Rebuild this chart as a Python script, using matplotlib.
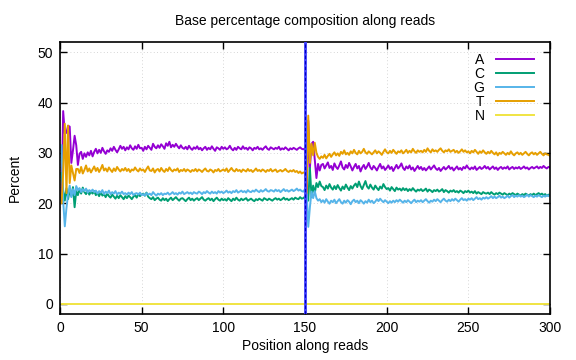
import matplotlib
matplotlib.use("Agg")
import matplotlib.pyplot as plt
import numpy as np

plt.rcParams['font.family'] = ['Liberation Sans', 'DejaVu Sans']

# position along reads: read 1 = 1..150, read 2 = 151..300
positions = np.arange(1, 301)

pct_A = [
    20.5, 38.3, 33.8, 34.0, 35.4, 35.2, 28.0, 30.5, 33.4, 31.5,
    27.6, 29.8, 30.2, 28.8, 29.9, 29.2, 30.1, 29.5, 30.4, 29.3,
    30.2, 30.8, 29.9, 30.6, 30.0, 31.0, 30.3, 29.8, 30.5, 30.2,
    30.9, 30.4, 31.2, 30.6, 30.1, 30.7, 31.4, 30.8, 31.2, 30.5,
    31.1, 30.7, 31.5, 30.9, 30.6, 31.3, 30.8, 31.6, 30.9, 31.0,
    30.4, 31.2, 30.7, 31.4, 31.0, 30.6, 31.8, 31.2, 30.9, 31.5,
    31.0, 31.7, 31.3, 30.8, 31.9, 31.4, 32.2, 31.1, 31.6, 31.2,
    31.8, 31.3, 30.9, 31.5, 31.0, 30.8, 31.2, 30.7, 31.4, 30.9,
    30.6, 31.1, 30.8, 31.3, 30.7, 31.0, 30.5, 30.9, 31.2, 30.6,
    31.0, 30.7, 31.3, 30.8, 30.4, 31.1, 30.9, 30.6, 31.2, 30.8,
    31.1, 30.7, 30.9, 31.4, 30.8, 30.5, 31.0, 30.6, 31.2, 30.9,
    30.7, 31.3, 30.8, 31.0, 30.6, 31.1, 30.9, 30.5, 31.0, 30.8,
    31.2, 30.7, 30.9, 30.6, 31.0, 31.3, 30.8, 30.6, 31.1, 30.9,
    30.7, 31.0, 30.8, 31.2, 30.6, 30.9, 30.7, 31.1, 30.8, 30.5,
    30.9, 30.7, 31.0, 30.8, 30.6, 30.9, 31.1, 30.8, 30.7, 30.9,
    18.6, 36.4, 27.0, 31.8, 32.2, 28.5, 25.0, 27.8, 26.5, 27.6,
    27.8, 26.9, 27.5, 28.1, 27.0, 27.4, 26.6, 27.9, 27.2, 26.8,
    27.5, 28.3, 27.1, 26.7, 27.6, 27.0, 28.0, 27.3, 26.5, 27.2,
    27.8, 26.9, 27.4, 26.3, 27.1, 27.6, 26.8, 27.3, 28.0, 27.1,
    26.7, 27.4, 27.0, 26.5, 27.2, 27.8, 26.9, 27.3, 26.6, 27.0,
    27.5, 26.8, 27.2, 26.4, 27.0, 27.6, 26.9, 27.3, 27.9, 27.0,
    26.6, 27.3, 26.9, 27.5, 26.7, 27.1, 26.4, 26.9, 27.4, 26.8,
    27.2, 26.6, 27.0, 26.5, 26.9, 27.3, 26.7, 27.1, 27.5, 26.9,
    26.6, 27.0, 26.4, 26.8, 27.2, 26.7, 27.0, 27.4, 26.8, 27.1,
    26.5, 26.9, 27.3, 26.7, 27.0, 26.6, 27.2, 26.9, 27.5, 27.0,
    26.7, 27.1, 26.8, 27.3, 26.6, 26.9, 27.2, 26.8, 27.0, 27.4,
    26.9, 27.2, 26.7, 27.0, 27.3, 26.8, 27.1, 26.6, 27.0, 27.2,
    26.8, 27.1, 26.9, 27.3, 26.7, 27.0, 27.2, 26.8, 27.1, 26.9,
    27.2, 26.8, 27.0, 27.3, 26.9, 27.1, 26.7, 27.0, 27.2, 26.9,
    27.1, 27.3, 26.9, 27.2, 27.0, 27.4, 27.1, 26.9, 27.2, 27.1,
]

pct_C = [
    26.0, 22.5, 20.5, 23.0, 20.8, 22.6, 21.4, 23.2, 19.2, 22.4,
    21.6, 22.8, 21.9, 23.1, 22.2, 21.8, 22.5, 21.7, 22.3, 21.9,
    22.4, 21.6, 22.0, 21.4, 22.2, 21.5, 21.8, 21.2, 21.9, 21.4,
    21.1, 21.7, 21.3, 20.9, 21.5, 21.0, 21.6, 21.2, 20.8, 21.4,
    21.0, 21.5, 21.2, 20.8, 21.3, 21.6, 21.1, 21.8, 21.4, 21.7,
    21.9, 21.5, 22.1, 21.3, 21.0, 20.8, 21.2, 20.6, 20.9, 21.1,
    20.7, 20.5, 21.0, 20.6, 20.9, 20.4, 20.8, 21.1, 20.6, 20.9,
    21.2, 20.8, 20.5, 20.9, 21.0, 20.7, 20.4, 20.8, 21.1, 20.6,
    20.9, 20.5, 20.8, 21.0, 20.6, 20.9, 21.2, 20.7, 20.5, 20.8,
    21.0, 20.6, 20.9, 20.4, 20.8, 21.1, 20.7, 20.5, 20.9, 20.6,
    20.8, 20.5, 21.0, 20.7, 20.4, 20.9, 20.6, 21.1, 20.7, 20.5,
    20.9, 20.6, 20.8, 21.0, 20.5, 20.7, 20.9, 20.6, 20.4, 20.8,
    20.6, 20.9, 20.7, 20.5, 21.0, 20.8, 20.6, 20.9, 20.7, 20.5,
    20.8, 21.0, 20.7, 20.9, 20.6, 20.8, 21.1, 20.7, 20.9, 20.6,
    20.8, 21.0, 20.7, 21.1, 20.9, 20.8, 21.2, 20.9, 21.0, 21.3,
    21.0, 20.5, 27.0, 21.2, 23.5, 22.0, 24.0, 23.2, 24.3, 23.4,
    23.2, 22.6, 23.5, 22.9, 23.8, 23.1, 22.7, 23.4, 22.8, 23.6,
    23.0, 22.5, 23.3, 22.8, 23.7, 23.1, 22.6, 23.4, 22.9, 23.5,
    23.9, 23.2, 24.3, 23.4, 22.8, 23.6, 24.4, 23.3, 22.9, 23.7,
    23.1, 22.7, 23.5, 23.0, 22.6, 23.3, 22.9, 23.8, 23.2, 22.8,
    23.0, 22.5, 23.2, 22.8, 22.4, 23.1, 22.7, 22.9, 22.5, 23.0,
    22.6, 22.9, 22.4, 22.8, 22.5, 23.0, 22.6, 22.3, 22.7, 22.5,
    22.8, 22.4, 22.6, 22.9, 22.3, 22.7, 22.5, 22.2, 22.6, 22.4,
    22.7, 22.3, 22.5, 22.8, 22.2, 22.6, 22.4, 22.1, 22.5, 22.3,
    22.6, 22.2, 22.4, 22.1, 22.5, 22.3, 22.0, 22.4, 22.2, 22.5,
    22.1, 22.3, 22.0, 22.4, 21.9, 22.2, 22.0, 21.8, 22.2, 22.0,
    21.9, 22.1, 21.8, 22.2, 21.9, 21.7, 22.0, 21.8, 22.1, 21.9,
    21.7, 22.0, 21.8, 21.6, 21.9, 21.7, 22.0, 21.8, 21.6, 21.9,
    21.7, 21.5, 21.8, 21.6, 21.9, 21.7, 21.5, 21.8, 21.6, 21.9,
    21.6, 21.8, 22.0, 21.7, 21.9, 21.6, 21.8, 21.5, 21.7, 21.6,
]

pct_G = [
    31.5, 20.5, 15.4, 19.0, 21.8, 23.5, 21.2, 22.8, 21.6, 23.4,
    22.6, 23.0, 22.2, 22.8, 22.4, 22.9, 22.1, 22.6, 22.3, 22.7,
    22.2, 22.5, 21.9, 22.4, 22.1, 22.6, 21.8, 22.3, 22.0, 22.5,
    21.8, 22.2, 21.9, 22.4, 21.7, 22.1, 21.9, 22.3, 21.8, 22.0,
    21.7, 22.1, 21.8, 22.2, 21.6, 21.9, 22.0, 21.7, 22.1, 21.6,
    21.8, 21.5, 22.0, 21.7, 21.9, 21.6, 22.2, 21.8, 21.5, 21.9,
    21.7, 22.0, 21.6, 21.9, 21.8, 22.1, 21.7, 21.9, 22.2, 21.8,
    22.0, 21.7, 22.1, 21.9, 22.3, 21.8, 22.0, 22.2, 21.9, 22.1,
    21.8, 22.2, 22.0, 21.9, 22.3, 22.1, 21.8, 22.2, 22.0, 22.4,
    22.1, 21.9, 22.3, 22.0, 22.2, 21.9, 22.4, 22.1, 22.3, 22.0,
    22.2, 22.5, 22.1, 22.3, 22.0, 22.4, 22.2, 22.6, 22.1, 22.3,
    22.5, 22.2, 22.4, 22.1, 22.6, 22.3, 22.2, 22.5, 22.3, 22.7,
    22.4, 22.2, 22.6, 22.3, 22.5, 22.8, 22.4, 22.3, 22.6, 22.5,
    22.3, 22.7, 22.4, 22.6, 22.2, 22.5, 22.8, 22.4, 22.6, 22.3,
    22.5, 22.7, 22.4, 22.6, 22.9, 22.5, 22.7, 22.4, 22.3, 22.8,
    22.5, 15.3, 19.2, 22.3, 21.0, 22.4, 21.0, 20.5, 20.8, 20.2,
    20.6, 20.1, 20.8, 20.3, 19.9, 20.5, 20.2, 20.7, 20.0, 20.4,
    20.8, 20.2, 19.9, 20.5, 20.1, 20.6, 20.3, 19.8, 20.4, 20.7,
    20.2, 20.5, 20.0, 20.6, 20.3, 19.9, 20.4, 20.1, 20.7, 20.2,
    20.5, 20.0, 20.3, 20.8, 20.4, 20.9, 20.5, 20.2, 20.6, 20.3,
    20.0, 20.4, 20.1, 20.5, 20.2, 20.6, 20.3, 20.7, 20.4, 20.1,
    20.5, 20.2, 20.6, 20.3, 20.0, 20.4, 20.7, 20.2, 20.5, 20.3,
    20.6, 20.2, 20.5, 20.8, 20.4, 20.1, 20.5, 20.3, 20.7, 20.4,
    20.8, 20.5, 20.2, 20.6, 20.9, 20.5, 20.3, 20.7, 20.4, 20.8,
    20.5, 20.9, 20.6, 20.3, 20.7, 21.0, 20.6, 20.8, 20.5, 20.9,
    20.7, 21.0, 20.6, 20.9, 21.2, 20.8, 21.0, 20.7, 21.1, 20.9,
    21.2, 20.9, 21.1, 21.4, 21.0, 21.3, 21.0, 21.2, 21.5, 21.1,
    21.3, 21.0, 21.2, 21.5, 21.1, 21.4, 21.6, 21.2, 21.5, 21.3,
    21.6, 21.3, 21.5, 21.2, 21.4, 21.7, 21.3, 21.6, 21.4, 21.2,
    21.5, 21.3, 21.6, 21.4, 21.2, 21.5, 21.3, 21.6, 21.4, 21.7,
]

pct_T = [
    20.0, 26.0, 35.8, 22.0, 35.4, 24.0, 27.5, 26.0, 24.5, 26.8,
    26.8, 26.0, 27.2, 25.9, 26.6, 27.5, 26.3, 26.9, 26.1, 26.7,
    27.3, 26.4, 27.0, 26.2, 26.8, 27.6, 26.5, 26.9, 26.3, 27.1,
    26.6, 26.2, 26.9, 26.4, 27.2, 26.7, 26.3, 26.8, 26.5, 27.0,
    26.4, 26.8, 26.2, 26.7, 26.5, 27.1, 26.6, 26.3, 26.9, 26.5,
    26.7, 26.2, 26.8, 27.3, 26.5, 26.4, 26.9, 26.1, 26.6, 26.8,
    26.3, 27.0, 26.5, 26.2, 26.8, 26.4, 27.1, 26.6, 26.3, 26.7,
    26.5, 26.9, 26.2, 26.6, 26.4, 26.8, 26.3, 26.7, 26.5, 26.2,
    26.6, 26.4, 26.8, 26.3, 26.7, 26.5, 26.2, 26.6, 26.9, 26.4,
    26.3, 26.7, 26.5, 26.1, 26.6, 26.4, 26.8, 26.3, 26.5, 26.7,
    26.4, 26.9, 26.2, 26.6, 27.0, 26.5, 26.3, 26.8, 26.4, 26.6,
    26.2, 26.7, 26.5, 26.3, 26.8, 26.4, 26.6, 26.2, 26.5, 26.9,
    26.4, 26.6, 26.3, 26.7, 26.5, 26.2, 26.6, 26.4, 26.8, 26.3,
    26.5, 26.7, 26.2, 26.4, 26.6, 26.3, 26.5, 26.8, 26.4, 26.2,
    26.5, 26.3, 26.6, 26.2, 26.4, 26.0, 26.3, 25.9, 26.1, 26.0,
    22.0, 37.4, 28.0, 31.8, 29.5, 32.0, 30.0, 29.2, 28.8, 29.3,
    29.0, 29.6, 28.9, 29.4, 29.8, 29.2, 29.7, 30.1, 29.5, 29.9,
    29.4, 30.2, 29.8, 30.5, 29.7, 30.0, 29.6, 30.3, 29.9, 30.6,
    30.0, 29.7, 30.4, 29.9, 30.2, 30.8, 30.1, 29.8, 30.3, 30.0,
    29.7, 30.1, 30.5, 29.9, 30.3, 30.0, 29.6, 30.2, 30.7, 30.1,
    29.9, 30.4, 30.0, 30.6, 30.2, 29.8, 30.3, 30.1, 30.5, 29.9,
    30.2, 30.6, 30.0, 30.4, 30.1, 30.8, 30.3, 30.0, 30.5, 30.2,
    30.4, 30.1, 30.6, 30.2, 30.9, 30.4, 30.1, 30.7, 30.3, 30.5,
    30.2, 30.6, 30.9, 30.4, 30.1, 30.5, 30.3, 30.7, 30.2, 30.4,
    30.6, 30.1, 30.4, 30.0, 30.3, 30.7, 30.2, 30.5, 30.1, 30.3,
    29.9, 30.4, 30.1, 30.6, 30.2, 29.8, 30.3, 30.0, 30.5, 30.1,
    29.8, 30.2, 29.9, 30.4, 30.0, 29.7, 30.1, 29.5, 30.0, 29.8,
    30.2, 29.9, 29.6, 30.0, 29.7, 30.3, 29.8, 29.5, 29.9, 30.1,
    29.7, 30.0, 29.6, 29.9, 30.2, 29.8, 29.5, 29.9, 30.1, 29.7,
    30.0, 29.6, 29.9, 30.2, 29.8, 29.5, 29.9, 29.7, 29.6, 29.4,
]

pct_N = [0.0] * 300

bases = ["A", "C", "G", "T", "N"]
series = [pct_A, pct_C, pct_G, pct_T, pct_N]
colors = ["#9400d3", "#009e73", "#56b4e9", "#e69f00", "#f0e442"]

read_boundary = 150

fig = plt.figure(figsize=(5.76, 3.6), dpi=100)
ax = fig.add_axes([0.104, 0.128, 0.851, 0.755])

for base, vals, col in zip(bases, series, colors):
    ax.plot(positions, vals, color=col, lw=1.4, label=base)

# separator between read 1 and read 2
ax.axvline(read_boundary, color="#4040ff", lw=2.0, zorder=5)
ax.axvline(read_boundary, color="#0000c0", lw=0.8, ls=(0, (3, 2)), zorder=6)

ax.set_xlim(0, 300)
ax.set_ylim(-2, 52)
ax.set_xticks(range(0, 301, 50))
ax.set_yticks(range(0, 51, 10))
ax.tick_params(direction="in", top=True, right=True, length=5, width=1,
               labelsize=10, pad=5)
ax.grid(True, color="#c8c8c8", lw=0.6, ls=(0, (1, 3)))
for sp in ax.spines.values():
    sp.set_linewidth(1.2)

ax.set_title("Base percentage composition along reads", fontsize=10, pad=12)
ax.set_xlabel("Position along reads", fontsize=10, labelpad=3)
ax.set_ylabel("Percent", fontsize=10, labelpad=11)

leg = ax.legend(loc="upper right", bbox_to_anchor=(0.985, 0.99), frameon=False,
                markerfirst=False, fontsize=10, handlelength=2.8,
                labelspacing=0.0, handletextpad=0.8, borderaxespad=0.2)
for t in leg.get_texts():
    t.set_ha("right")

fig.savefig("out.png", dpi=100)
